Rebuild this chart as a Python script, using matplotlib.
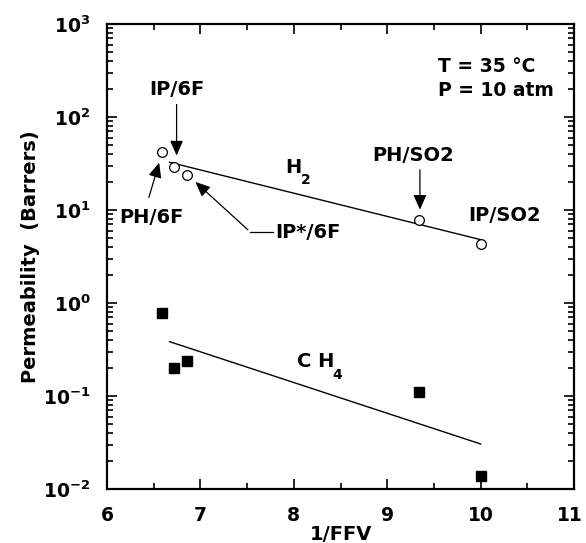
import numpy as np
import matplotlib
matplotlib.use("Agg")
import matplotlib.pyplot as plt
import matplotlib.transforms as mtransforms

plt.rcParams['font.family'] = ['DejaVu Sans']
plt.rcParams['font.weight'] = 'bold'
plt.rcParams['mathtext.fontset'] = 'custom'
plt.rcParams['mathtext.rm'] = 'DejaVu Sans:bold'
plt.rcParams['mathtext.bf'] = 'DejaVu Sans:bold'
plt.rcParams['mathtext.it'] = 'DejaVu Sans:bold'
plt.rcParams['axes.unicode_minus'] = False

# datos
ffv_inv = [6.585, 6.72, 6.855, 9.34, 10.0]
h2_perm = [42.0, 29.0, 23.5, 7.8, 4.3]
ch4_perm = [0.78, 0.20, 0.24, 0.11, 0.0138]
polymers = ["PH/6F", "IP/6F", "IP*/6F", "PH/SO2", "IP/SO2"]

# lineas de tendencia
fit_x = [6.67, 10.0]
h2_fit = [32.6, 4.8]
ch4_fit = [0.384, 0.0305]

fig = plt.figure(figsize=(5.86, 5.43), dpi=100)
ax = fig.add_axes([0.1826, 0.0994, 0.797, 0.8564])

ax.plot(fit_x, h2_fit, color='black', lw=1.0)
ax.plot(fit_x, ch4_fit, color='black', lw=1.0)
ax.plot(ffv_inv, h2_perm, 'o', mfc='white', mec='black', ms=7, mew=0.9)
ax.plot(ffv_inv, ch4_perm, 's', color='black', ms=7)

ax.set_yscale('log')
ax.set_xlim(6, 11)
ax.set_ylim(1e-2, 1e3)
ax.set_xticks([6, 7, 8, 9, 10, 11])
ax.set_xticks(np.arange(6.5, 11, 1.0), minor=True)

ax.tick_params(which='both', direction='in', top=True, right=True, width=1.2)
ax.tick_params(which='major', length=7, labelsize=13.5)
ax.tick_params(axis='x', which='major', pad=12)
ax.tick_params(axis='y', which='major', pad=12)
ax.tick_params(which='minor', length=4)
for sp in ax.spines.values():
    sp.set_linewidth(1.6)

# el "11" queda justo en el borde
fig.canvas.draw()
last = ax.get_xticklabels()[-1]
last.set_transform(last.get_transform() +
                   mtransforms.ScaledTranslation(-3 / 72, 0, fig.dpi_scale_trans))

ax.set_xlabel("1/FFV", fontsize=14, fontweight='bold', labelpad=0)
ax.set_ylabel("Permeability  (Barrers)", fontsize=14, fontweight='bold', labelpad=2)

fs = 14
ax.text(9.54, 345, "T = 35 °C", fontsize=13.5, fontweight='bold', ha='left', va='center')
ax.text(9.54, 195, "P = 10 atm", fontsize=13.5, fontweight='bold', ha='left', va='center')

arrow = dict(arrowstyle='-|>,head_length=0.5,head_width=0.22', color='black',
             lw=0.9, mutation_scale=18)

# IP/6F
ax.text(6.75, 200, polymers[1], fontsize=fs, fontweight='bold', ha='center', va='center')
ax.annotate("", xy=(6.745, 36), xytext=(6.745, 146), arrowprops=arrow)
# PH/6F
ax.text(6.48, 8.4, polymers[0], fontsize=fs, fontweight='bold', ha='center', va='center')
ax.annotate("", xy=(6.567, 34.5), xytext=(6.44, 12.8), arrowprops=arrow)
# IP*/6F
ax.text(7.8, 5.7, polymers[2], fontsize=fs, fontweight='bold', ha='left', va='center')
ax.plot([7.53, 7.78], [5.85, 5.85], color='black', lw=0.9)
ax.annotate("", xy=(6.924, 21.0), xytext=(7.53, 5.85), arrowprops=arrow)
# PH/SO2
ax.text(9.276, 39, polymers[3], fontsize=fs, fontweight='bold', ha='center', va='center')
ax.annotate("", xy=(9.35, 9.4), xytext=(9.35, 29), arrowprops=arrow)
# IP/SO2
ax.text(10.26, 8.8, polymers[4], fontsize=fs, fontweight='bold', ha='center', va='center')

# H2 / CH4
ax.text(7.995, 28.5, "H", fontsize=fs, fontweight='bold', ha='center', va='center')
ax.text(8.13, 21.2, "2", fontsize=10, fontweight='bold', ha='center', va='center')
ax.text(8.235, 0.236, "C H", fontsize=fs, fontweight='bold', ha='center', va='center')
ax.text(8.465, 0.170, "4", fontsize=10, fontweight='bold', ha='center', va='center')

fig.savefig("out.png", dpi=100)
